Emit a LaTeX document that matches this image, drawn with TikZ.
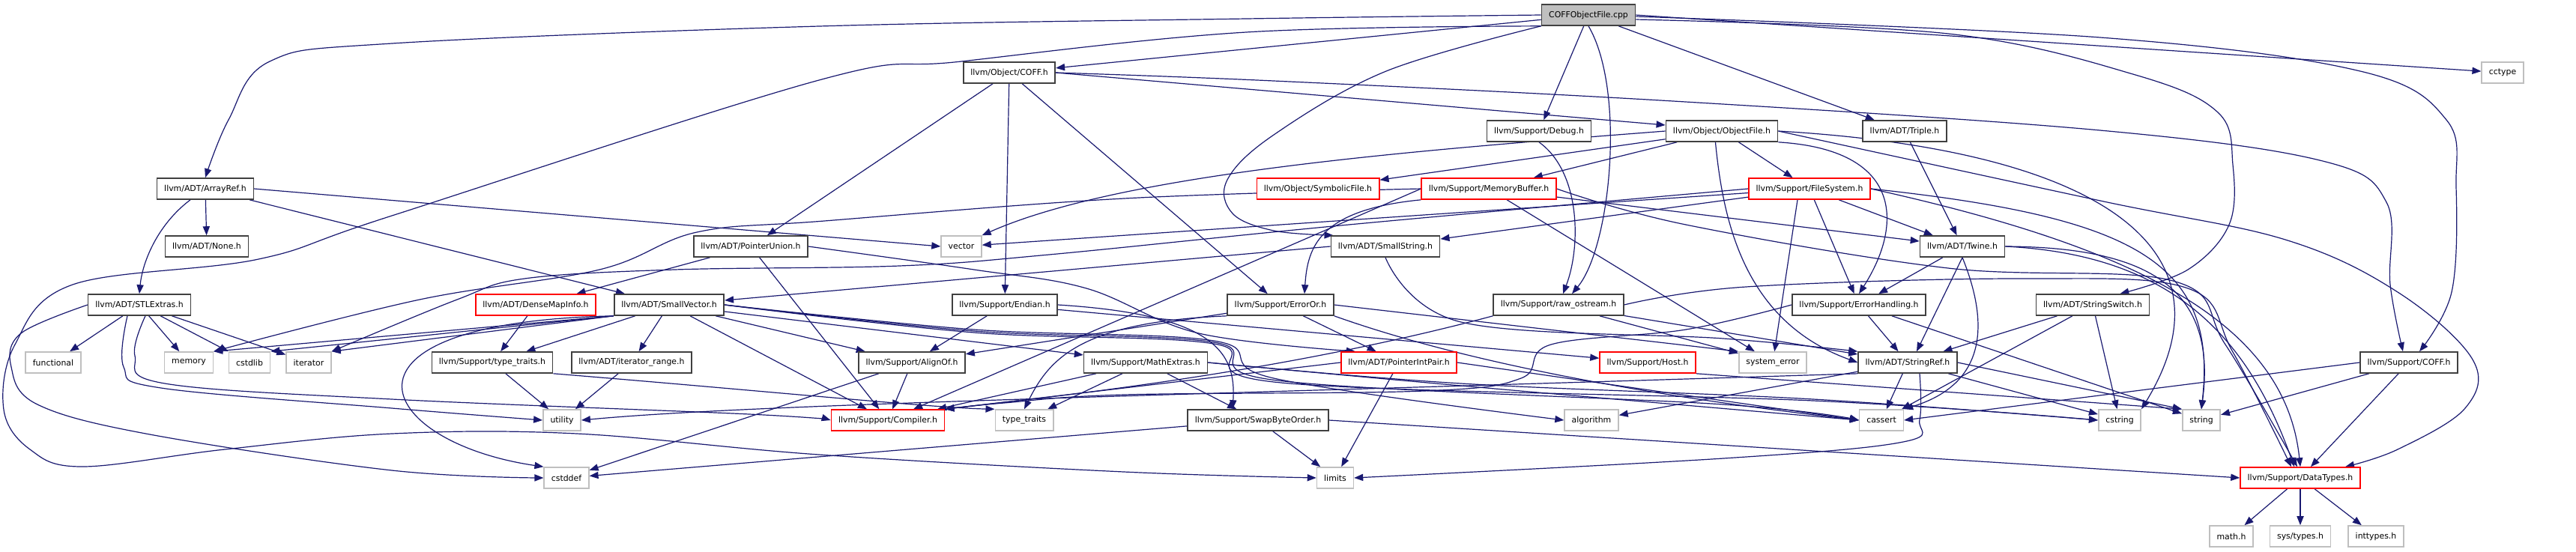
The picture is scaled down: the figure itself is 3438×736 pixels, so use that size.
\documentclass[tikz,border=0pt]{standalone}
\usepackage{fontspec}
\setmainfont{DejaVu Sans}
\usepackage{tikz}
\usetikzlibrary{arrows.meta,backgrounds}
\definecolor{edgeblue}{HTML}{191970}
\definecolor{boxline}{HTML}{404040}
\definecolor{sysline}{HTML}{BFBFBF}
\definecolor{srcfill}{HTML}{BFBFBF}
\tikzset{
  hdr/.style={draw=boxline,line width=0.8pt,fill=white,minimum height=14pt,inner xsep=4.8pt,inner ysep=0pt,font=\fontsize{5.45}{6}\selectfont},
  cut/.style={hdr,draw=red},
  sys/.style={hdr,draw=sysline},
  src/.style={hdr,fill=srcfill},
  dep/.style={draw=edgeblue,line width=0.6pt,-{Triangle[length=6pt,width=4.6pt]}},
}
\begin{document}
\begin{tikzpicture}[x=0.5pt,y=-0.5pt]
 \useasboundingbox (0,0) rectangle (3438,736);
 \node[src] (cpp) at (2120,20) {COFFObjectFile.cpp};
 \node[hdr] (ocoff) at (1347,97) {llvm/Object/COFF.h};
 \node[sys] (cctype) at (3340,97) {cctype};
 \node[hdr] (debug) at (2054,175) {llvm/Support/Debug.h};
 \node[hdr] (objfile) at (2298,175) {llvm/Object/ObjectFile.h};
 \node[hdr] (triple) at (2542,175) {llvm/ADT/Triple.h};
 \node[hdr] (arrayref) at (274,252) {llvm/ADT/ArrayRef.h};
 \node[cut] (symfile) at (1759,252) {llvm/Object/SymbolicFile.h};
 \node[cut] (membuf) at (1987,252) {llvm/Support/MemoryBuffer.h};
 \node[cut] (filesys) at (2415,252) {llvm/Support/FileSystem.h};
 \node[hdr] (noneh) at (276,329) {llvm/ADT/None.h};
 \node[hdr] (ptrunion) at (1002,329) {llvm/ADT/PointerUnion.h};
 \node[sys] (vector) at (1283,329) {vector};
 \node[hdr] (smallstr) at (1849,329) {llvm/ADT/SmallString.h};
 \node[hdr] (twine) at (2619,329) {llvm/ADT/Twine.h};
 \node[hdr] (stlextras) at (186,407) {llvm/ADT/STLExtras.h};
 \node[cut] (densemap) at (715,407) {llvm/ADT/DenseMapInfo.h};
 \node[hdr] (smallvec) at (893,407) {llvm/ADT/SmallVector.h};
 \node[hdr] (endian) at (1341,407) {llvm/Support/Endian.h};
 \node[hdr] (erroror) at (1709,407) {llvm/Support/ErrorOr.h};
 \node[hdr] (rawos) at (2080,407) {llvm/Support/raw\_ostream.h};
 \node[hdr] (errhand) at (2481,407) {llvm/Support/ErrorHandling.h};
 \node[hdr] (strswitch) at (2793,407) {llvm/ADT/StringSwitch.h};
 \node[sys] (functional) at (71,484) {functional};
 \node[sys] (memory) at (252,484) {memory};
 \node[sys] (cstdlib) at (333,484) {cstdlib};
 \node[sys] (iterator) at (412,484) {iterator};
 \node[hdr] (typetraitsh) at (657,484) {llvm/Support/type\_traits.h};
 \node[hdr] (itrange) at (843,484) {llvm/ADT/iterator\_range.h};
 \node[hdr] (alignof) at (1217,484) {llvm/Support/AlignOf.h};
 \node[hdr] (mathext) at (1529,484) {llvm/Support/MathExtras.h};
 \node[cut] (ptrintpair) at (1867,484) {llvm/ADT/PointerIntPair.h};
 \node[cut] (host) at (2199,484) {llvm/Support/Host.h};
 \node[sys] (syserr) at (2366,484) {system\_error};
 \node[hdr] (strref) at (2546,484) {llvm/ADT/StringRef.h};
 \node[hdr] (scoff) at (3215,484) {llvm/Support/COFF.h};
 \node[sys] (utility) at (750,561) {utility};
 \node[cut] (compiler) at (1185,561) {llvm/Support/Compiler.h};
 \node[sys] (typetraits) at (1367,561) {type\_traits};
 \node[hdr] (swapbyte) at (1679,561) {llvm/Support/SwapByteOrder.h};
 \node[sys] (algorithm) at (2124,561) {algorithm};
 \node[sys] (cassert) at (2511,561) {cassert};
 \node[sys] (cstring) at (2829,561) {cstring};
 \node[sys] (string) at (2938,561) {string};
 \node[sys] (cstddef) at (756,638) {cstddef};
 \node[sys] (limits) at (1782,638) {limits};
 \node[cut] (datatypes) at (3070,638) {llvm/Support/DataTypes.h};
 \node[sys] (mathh) at (2978,716) {math.h};
 \node[sys] (systypes) at (3070,716) {sys/types.h};
 \node[sys] (inttypes) at (3171,716) {inttypes.h};
 \begin{scope}[on background layer]
 \draw[dep] (cpp) -- (ocoff); \draw[dep] (cpp) -- (debug); \draw[dep] (cpp) -- (triple); \draw[dep] (cpp.east) -- (cctype);
 \draw[dep] (cpp.south) .. controls (2170,120) and (2150,330) .. ([xshift=9pt]rawos.north);
 \draw[dep] plot[smooth,tension=.6] coordinates {(cpp.west) (1663,25) (1093,35) (523,58) (360,82) (305,160) (arrayref.north)};
 \draw[dep] plot[smooth,tension=.6] coordinates {(cpp.south west) (1663,43) (1283,82) (1093,107) (523,288) (345,346) (97,380) (20,460) (5,547) (40,600) (110,623) (300,600) (523,579) (770,579) (1093,607) (1500,630) (limits.west)};
 \draw[dep] plot[smooth,tension=.6] coordinates {(cpp.south west) (1850,95) (1700,180) (1638,240) (1645,285) (1700,308) ([xshift=2pt]smallstr.north west)};
 \draw[dep] plot[smooth,tension=.6] coordinates {([yshift=-3pt]cpp.east) (2600,45) (2850,100) (2960,150) (2980,220) (2975,300) (2920,360) ([xshift=-20pt]strswitch.north east)};
 \draw[dep] plot[smooth,tension=.6] coordinates {([yshift=-1pt]cpp.east) (2803,50) (3150,95) (3265,160) (3278,250) (3272,390) ([xshift=7pt]scoff.north)};
 \draw[dep] (ocoff.east) -- ([yshift=4pt]objfile.west); \draw[dep] (ocoff) -- (ptrunion); \draw[dep] (ocoff) -- (endian); \draw[dep] (ocoff) -- (erroror);
 \draw[dep] plot[smooth,tension=.6] coordinates {(ocoff.east) (1700,108) (2233,135) (2803,174) (3100,215) (3185,270) (3190,380) ([xshift=-4pt]scoff.north)};
 \draw[dep] (debug.south) .. controls (2110,230) and (2110,330) .. ([xshift=3pt]rawos.north);
 \draw[dep] (objfile) -- (symfile); \draw[dep] (objfile) -- (membuf); \draw[dep] (objfile) -- (filesys);
 \draw[dep] (objfile.west) .. controls (1900,200) and (1500,230) .. (vector.north east);
 \draw[dep] (objfile.240) .. controls (2300,300) and (2330,430) .. (strref.west);
 \draw[dep] (objfile.south east) .. controls (2540,200) and (2540,300) .. (errhand.north);
 \draw[dep] (objfile.east) .. controls (2800,200) and (2990,330) .. (cstring.north east);
 \draw[dep] plot[smooth,tension=.6] coordinates {(objfile.east) (2803,268) (3050,320) (3200,390) (3300,480) (3290,545) (3200,600) ([xshift=30pt]datatypes.north)};
 \draw[dep] (triple) -- (twine);
 \draw[dep] (arrayref) -- (noneh); \draw[dep] (arrayref) -- (smallvec); \draw[dep] (arrayref.east) -- (vector.west);
 \draw[dep] ([xshift=-10pt]arrayref.south) .. controls (210,300) and (190,350) .. (stlextras.north);
 \draw[dep] (membuf.south west) .. controls (1760,280) and (1745,330) .. ([xshift=16pt]erroror.north);
 \draw[dep] (membuf) -- (twine); \draw[dep] (membuf.west) -- (compiler); \draw[dep] (membuf) -- (syserr);
 \draw[dep] plot[smooth,tension=.6] coordinates {(membuf.east) (2250,300) (2600,358) (2900,375) (2970,460) ([xshift=-2pt]datatypes.north)};
 \draw[dep] plot[smooth,tension=.6] coordinates {(membuf.west) (1500,265) (1100,295) (930,310) (800,360) (560,400) (memory.north east)};
 \draw[dep] (filesys) -- (vector); \draw[dep] (filesys) -- (smallstr); \draw[dep] (filesys) -- (twine); \draw[dep] (filesys) -- (errhand);
 \draw[dep] ([xshift=-8pt]filesys.south) -- (syserr);
 \draw[dep] plot[smooth,tension=.6] coordinates {(filesys.west) (1800,300) (1400,340) (1200,355) (900,360) (700,372) (610,400) (iterator.north east)};
 \draw[dep] (filesys.east) .. controls (2850,330) and (3050,430) .. (datatypes.north);
 \draw[dep] (filesys.east) .. controls (2850,290) and (2960,350) .. (string.north);
 \draw[dep] (smallstr.west) -- ([yshift=3pt]smallvec.east);
 \draw[dep] plot[smooth,tension=.6] coordinates {(smallstr.south) (1950,430) (2300,452) (strref.north west)};
 \draw[dep] (twine) -- (errhand); \draw[dep] (twine.south) -- ([xshift=6pt]strref.north);
 \draw[dep] (twine.south) .. controls (2650,420) and (2660,510) .. (cassert.north east);
 \draw[dep] (twine.east) .. controls (2860,330) and (2960,380) .. (string.north);
 \draw[dep] (twine.east) .. controls (2900,340) and (3000,450) .. ([xshift=-4pt]datatypes.north);
 \draw[dep] (stlextras) -- (functional); \draw[dep] (stlextras) -- (memory); \draw[dep] (stlextras) -- (cstdlib); \draw[dep] (stlextras) -- (iterator);
 \draw[dep] plot[smooth,tension=.6] coordinates {([xshift=4pt]stlextras.south) (180,475) (220,512) (523,533) (1000,553) (compiler.west)};
 \draw[dep] plot[smooth,tension=.6] coordinates {([xshift=-8pt]stlextras.south) (165,490) (215,518) (523,545) (utility.west)};
 \draw[dep] plot[smooth,tension=.6] coordinates {(stlextras.west) (28,445) (15,490) (50,540) (200,580) (523,628) (cstddef.west)};
 \draw[dep] (densemap) -- (typetraitsh);
 \draw[dep] (ptrunion) -- (densemap); \draw[dep] (ptrunion) -- (compiler);
 \draw[dep] plot[smooth,tension=.6] coordinates {(ptrunion.east) (1300,360) (1450,385) (1600,445) ([xshift=10pt]ptrintpair.north west)};
 \draw[dep] (smallvec) -- (alignof); \draw[dep] (smallvec) -- (compiler); \draw[dep] (smallvec) -- (mathext); \draw[dep] (smallvec) -- (typetraitsh); \draw[dep] (smallvec) -- (itrange);
 \draw[dep] (smallvec.south west) -- (memory.north east); \draw[dep] (smallvec.south west) -- (cstdlib.north east); \draw[dep] (smallvec.south west) -- (iterator.north east);
 \draw[dep] (smallvec.south west) .. controls (420,430) and (500,590) .. (cstddef.north west);
 \draw[dep] plot[smooth,tension=.6] coordinates {(smallvec.east) (1300,440) (1620,455) (1700,505) (algorithm.west)};
 \draw[dep] plot[smooth,tension=.6] coordinates {(smallvec.east) (1300,442) (1620,457) (1705,508) (2300,540) (cassert.west)};
 \draw[dep] plot[smooth,tension=.6] coordinates {(smallvec.east) (1300,444) (1620,459) (1710,511) (2420,535) (cstring.west)};
 \draw[dep] (endian) -- (alignof); \draw[dep] (endian) -- (host);
 \draw[dep] (endian.east) .. controls (1620,420) and (1650,470) .. ([xshift=-17pt]swapbyte.north);
 \draw[dep] (erroror) -- (ptrintpair); \draw[dep] (erroror) -- (alignof); \draw[dep] (erroror.east) -- (syserr.north west);
 \draw[dep] (erroror.south west) .. controls (1440,430) and (1400,480) .. (typetraits.north);
 \draw[dep] (erroror.south east) .. controls (2000,500) and (2300,540) .. (cassert.west);
 \draw[dep] (rawos) -- (strref); \draw[dep] (rawos) -- (syserr);
 \draw[dep] (rawos.south west) .. controls (1700,500) and (1400,530) .. (compiler.north east);
 \draw[dep] plot[smooth,tension=.6] coordinates {(rawos.east) (2330,383) (2700,372) (2920,385) (2980,470) ([xshift=-6pt]datatypes.north)};
 \draw[dep] (errhand) -- (strref); \draw[dep] (errhand) -- (string);
 \draw[dep] plot[smooth,tension=.6] coordinates {(errhand.west) (2250,440) (2070,460) (2030,505) (1900,522) (1500,527) (1340,538) (compiler.north east)};
 \draw[dep] (strswitch) -- (strref); \draw[dep] (strswitch) -- (cassert); \draw[dep] (strswitch) -- (cstring);
 \draw[dep] (typetraitsh) -- (utility);
 \draw[dep] (typetraitsh.south east) .. controls (1000,520) and (1250,545) .. (typetraits.north west);
 \draw[dep] (itrange) -- (utility);
 \draw[dep] (alignof) -- (compiler); \draw[dep] (alignof) -- (cstddef);
 \draw[dep] (mathext) -- (compiler); \draw[dep] (mathext) -- (typetraits); \draw[dep] (mathext) -- (swapbyte);
 \draw[dep] plot[smooth,tension=.6] coordinates {(mathext.east) (1950,515) (cassert.west)};
 \draw[dep] plot[smooth,tension=.6] coordinates {(mathext.east) (1950,512) (2420,533) (cstring.west)};
 \draw[dep] (ptrintpair.west) -- (compiler.north east); \draw[dep] (ptrintpair.east) -- (cassert.west); \draw[dep] (ptrintpair) -- (limits);
 \draw[dep] (host.south east) -- (string.north west);
 \draw[dep] (strref) -- (cassert); \draw[dep] (strref) -- (algorithm); \draw[dep] (strref) -- (cstring); \draw[dep] (strref.east) -- (string.north west);
 \draw[dep] (strref.south west) .. controls (1500,530) and (1000,540) .. (utility.east);
 \draw[dep] plot[smooth,tension=.6] coordinates {([xshift=8pt]strref.south) (2562,560) (2540,590) (2300,612) (limits.east)};
 \draw[dep] (scoff) -- (datatypes); \draw[dep] (scoff.west) -- (cassert.east); \draw[dep] (scoff) -- (string);
 \draw[dep] (swapbyte) -- (cstddef); \draw[dep] (swapbyte) -- (limits); \draw[dep] (swapbyte.east) -- (datatypes.west);
 \draw[dep] (datatypes) -- (mathh); \draw[dep] (datatypes) -- (systypes); \draw[dep] (datatypes) -- (inttypes);
 \end{scope}
\end{tikzpicture}
\end{document}
